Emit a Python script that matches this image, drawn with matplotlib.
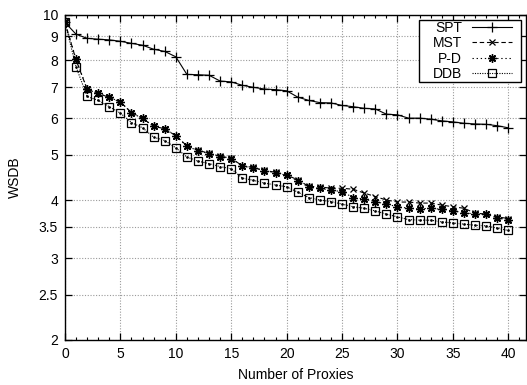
import matplotlib
matplotlib.use("Agg")
import matplotlib.pyplot as plt
from matplotlib.patches import Rectangle
from matplotlib.transforms import IdentityTransform
from matplotlib.ticker import FixedLocator, FixedFormatter, MultipleLocator, NullLocator

plt.rcParams['font.family'] = ['Liberation Sans', 'DejaVu Sans']

proxies = list(range(0, 41))

spt = [9.64, 9.09, 8.91, 8.87, 8.84, 8.78, 8.69, 8.61, 8.44, 8.35, 8.13,
       7.45, 7.44, 7.42, 7.21, 7.18, 7.06, 6.99, 6.93, 6.91, 6.87,
       6.66, 6.55, 6.48, 6.47, 6.39, 6.35, 6.30, 6.28, 6.12, 6.10,
       6.00, 6.00, 5.97, 5.92, 5.89, 5.85, 5.83, 5.82, 5.78, 5.72]

mst = [9.64, 8.00, 6.92, 6.78, 6.65, 6.50, 6.17, 5.99, 5.77, 5.69, 5.50,
       5.23, 5.12, 5.04, 4.97, 4.92, 4.74, 4.70, 4.63, 4.59, 4.53,
       4.42, 4.28, 4.27, 4.24, 4.24, 4.22, 4.14, 4.07, 4.00, 3.96,
       3.96, 3.94, 3.94, 3.90, 3.87, 3.84, 3.75, 3.73, 3.68, 3.65]

pd_ = [9.64, 8.03, 6.93, 6.78, 6.65, 6.50, 6.16, 5.99, 5.76, 5.69, 5.50,
       5.22, 5.11, 5.03, 4.96, 4.91, 4.73, 4.69, 4.62, 4.58, 4.52,
       4.40, 4.26, 4.24, 4.20, 4.17, 4.05, 4.02, 3.97, 3.92, 3.87,
       3.84, 3.83, 3.84, 3.82, 3.79, 3.76, 3.73, 3.73, 3.66, 3.63]

ddb = [9.64, 7.73, 6.68, 6.55, 6.35, 6.15, 5.87, 5.72, 5.46, 5.37, 5.18,
       4.95, 4.85, 4.79, 4.72, 4.67, 4.46, 4.41, 4.35, 4.31, 4.27,
       4.16, 4.05, 4.00, 3.97, 3.92, 3.87, 3.84, 3.79, 3.73, 3.68,
       3.63, 3.62, 3.62, 3.59, 3.57, 3.55, 3.53, 3.52, 3.48, 3.44]

series_names = ["SPT", "MST", "P-D", "DDB"]
y_ticks = [2, 2.5, 3, 3.5, 4, 5, 6, 7, 8, 9, 10]
y_tick_labels = ["2", "2.5", "3", "3.5", "4", "5", "6", "7", "8", "9", "10"]
x_ticks = [0, 5, 10, 15, 20, 25, 30, 35, 40]

W, H = 527, 385
fig = plt.figure(figsize=(W / 100, H / 100), dpi=100)
ax = fig.add_axes([65 / W, 1 - 340 / H, (526 - 65) / W, (340 - 15) / H])

fs = 10
lw = 0.8

ax.plot(proxies, spt, color='black', lw=lw, linestyle='-', marker='+',
        ms=6.5, mew=0.9, label=series_names[0])
l_mst, = ax.plot(proxies, mst, color='black', lw=lw, marker='x',
                 ms=4.8, mew=0.9, label=series_names[1])
l_mst.set_dashes([4, 2.5])
l_pd, = ax.plot(proxies, pd_, color='black', lw=lw, marker=(8, 2, 0),
                ms=6.0, mew=1.0, label=series_names[2])
l_pd.set_dashes([1.2, 2.5])
l_ddb, = ax.plot(proxies, ddb, color='black', lw=lw, marker='s',
                 ms=5.3, mew=0.9, mfc='none', label=series_names[3])
l_ddb.set_dashes([1, 1.2])
# center dots of the box markers
ax.plot(proxies, ddb, linestyle='none', marker='o', ms=0.9, color='black')

ax.set_yscale('log')
ax.set_ylim(2, 10)
ax.set_xlim(0, 41.6)
ax.yaxis.set_major_locator(FixedLocator(y_ticks))
ax.yaxis.set_major_formatter(FixedFormatter(y_tick_labels))
ax.yaxis.set_minor_locator(NullLocator())
ax.xaxis.set_major_locator(FixedLocator(x_ticks))
ax.xaxis.set_minor_locator(MultipleLocator(1))

ax.tick_params(which='both', direction='in', top=True, right=True,
               labelsize=fs, colors='black')
ax.tick_params(which='major', length=4.8, width=0.9)
ax.tick_params(which='minor', length=2.4, width=0.8)
ax.tick_params(axis='x', which='major', pad=5)
ax.tick_params(axis='y', which='major', pad=5)

ax.grid(True, which='major', color='#9a9a9a', linestyle=(0, (1, 1.5)), lw=0.8)
ax.set_axisbelow(True)
for sp in ax.spines.values():
    sp.set_linewidth(1.0)
    sp.set_color('black')

ax.set_xlabel("Number of Proxies", fontsize=fs, labelpad=5)
ax.set_ylabel("WSDB", fontsize=fs, labelpad=12)

# key: labels right-aligned before the line samples, boxed separately
leg = ax.legend(loc='upper right', bbox_to_anchor=(0.9696, 0.9815),
                borderaxespad=0, markerfirst=False, fontsize=fs,
                handlelength=2.9, handletextpad=0.7, labelspacing=0.09,
                borderpad=0.0, frameon=False)
leg.set_zorder(6)

fig.canvas.draw()
bb = leg.get_window_extent()
box = Rectangle((bb.x0 - 14, bb.y0 - 1), bb.width + 14 + 9, bb.height + 2,
                transform=IdentityTransform(), facecolor='white',
                edgecolor='black', lw=1.0, zorder=5.5, clip_on=False)
ax.add_patch(box)

fig.savefig("out.png", dpi=100)
